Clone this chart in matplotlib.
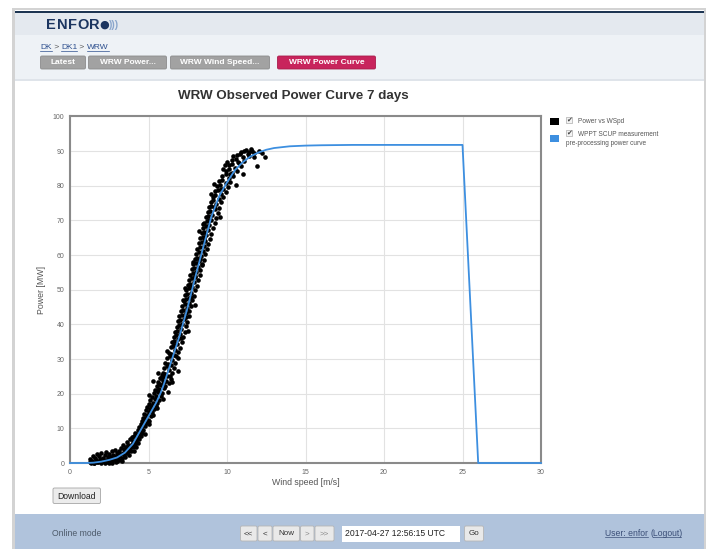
import matplotlib
matplotlib.use("Agg")
import matplotlib.pyplot as plt
from matplotlib.patches import Rectangle, FancyBboxPatch

plt.rcParams['font.family'] = ['Liberation Sans', 'DejaVu Sans']

# ---------------- data ----------------
title = "WRW Observed Power Curve 7 days"
x_label = "Wind speed [m/s]"
y_label = "Power [MW]"
x_ticks = [0, 5, 10, 15, 20, 25, 30]
y_ticks = [0, 10, 20, 30, 40, 50, 60, 70, 80, 90, 100]

legend_labels = ["Power vs WSpd", "WPPT SCUP measurement\npre-processing power curve"]

# pre-processing power curve (blue line)
curve_ws = [0, 1.0, 1.5, 2.0, 2.5, 3.0, 3.5, 4.0, 4.5, 5.0, 5.5, 5.8, 6.0, 6.5, 7.0,
            7.5, 8.0, 8.5, 9.0, 9.5, 10.0, 10.5, 11.0, 11.5, 12.0, 12.5, 13.0, 14.0,
            15.0, 16.0, 18.0, 20.0, 25.0, 26.0, 30.0]
curve_p = [0, 0, 0.1, 0.4, 0.9, 1.6, 3.0, 5.5, 9.5, 13.5, 17.5, 20.5, 23.0, 30.0, 37.0,
           45.0, 54.0, 62.5, 71.0, 77.0, 81.0, 84.5, 86.8, 88.5, 89.6, 90.4, 90.9, 91.4,
           91.6, 91.7, 91.8, 91.8, 91.8, 0, 0]

# observed points (wind speed, power)
obs_low = [
    (1.25, 0.3), (1.3, 1.2), (1.4, 0.6), (1.45, 2.1), (1.5, 0.1), (1.6, 1.5), (1.65, 0.8),
    (1.7, 2.6), (1.8, 0.4), (1.85, 1.9), (1.9, 1.1), (2.0, 0.2), (2.0, 2.8), (2.1, 1.4),
    (2.15, 0.6), (2.2, 2.2), (2.3, 1.0), (2.3, 3.1), (2.4, 0.3), (2.45, 1.8), (2.5, 2.6),
    (2.55, 0.9), (2.6, 1.6), (2.65, 3.4), (2.7, 0.5), (2.75, 2.3), (2.8, 1.2), (2.85, 3.8),
    (2.9, 0.8), (2.95, 2.0), (3.0, 2.9), (3.0, 0.6), (1.35, 0.0), (1.55, 0.0), (1.75, 0.2),
    (1.95, 0.0), (2.25, 0.1), (2.5, 0.0), (2.7, 0.1), (2.9, 0.2),
    (3.05, 1.8), (3.1, 3.6), (3.12, 0.9), (3.2, 2.5), (3.25, 4.3), (3.3, 1.4), (3.35, 3.0),
    (3.4, 5.1), (3.45, 2.2), (3.5, 3.8), (3.52, 1.6), (3.58, 4.6), (3.6, 2.9), (3.65, 6.0),
    (3.7, 3.5), (3.72, 5.2), (3.78, 2.4), (3.8, 4.4), (3.85, 6.8), (3.88, 3.6), (3.92, 5.6),
    (3.95, 7.4), (4.0, 4.6), (4.02, 6.3), (4.05, 3.4), (4.1, 7.9), (4.12, 5.5), (4.15, 8.8),
    (4.2, 6.6), (4.22, 4.7), (4.26, 7.6), (4.3, 9.6), (4.32, 5.9), (4.36, 8.4), (4.4, 10.3),
    (4.42, 6.9), (4.45, 9.1), (4.5, 11.2), (4.5, 7.8), (4.55, 10.0), (4.58, 12.0), (4.6, 8.7),
    (3.15, 2.0), (3.42, 3.9), (3.68, 4.5), (3.9, 4.9), (4.08, 6.0), (4.28, 7.0), (4.48, 8.9),
    (3.3, 0.5),
    (4.62, 10.9), (4.65, 13.0), (4.68, 9.6), (4.7, 11.8), (4.74, 14.2), (4.78, 10.7),
    (4.8, 12.9), (4.84, 15.3), (4.86, 11.4), (4.9, 13.8), (4.92, 16.2), (4.96, 12.4),
    (5.0, 14.6), (5.02, 17.0), (5.05, 12.0), (5.08, 15.5), (5.12, 18.1), (5.15, 13.6),
    (5.18, 16.4), (5.22, 19.0), (5.25, 14.8), (5.3, 17.3), (5.32, 20.2), (5.36, 15.6),
    (5.4, 18.4), (5.42, 21.1), (5.46, 16.5), (5.5, 19.3), (5.52, 22.3), (5.56, 17.4),
    (5.6, 20.4), (5.62, 23.4), (5.66, 18.2), (5.7, 21.5), (5.74, 24.6), (5.78, 19.2),
    (5.8, 22.6), (5.84, 25.4), (5.88, 20.1), (5.9, 23.6), (5.0, 11.2), (5.3, 13.9),
    (5.55, 15.8), (4.75, 8.4), (5.95, 18.6),
]
obs_steep = [
    (5.55, 21.0), (5.97, 21.6), (6.22, 20.6), (5.68, 22.9), (6.04, 22.2), (6.31, 23.1),
    (5.86, 22.6), (5.79, 24.4), (6.12, 23.7), (6.42, 24.3), (5.94, 24.8), (5.9, 25.9),
    (6.21, 25.2), (6.52, 26.0), (6.06, 25.6), (5.96, 27.4), (6.29, 26.8), (6.61, 27.3),
    (6.16, 27.9), (6.04, 28.8), (6.41, 28.2), (6.69, 29.0), (6.26, 28.6), (6.18, 30.4),
    (6.49, 29.7), (6.86, 30.3), (6.36, 30.9), (6.29, 31.8), (6.62, 31.2), (6.91, 32.0),
    (6.46, 31.5), (6.41, 33.4), (6.71, 32.7), (7.02, 33.2), (6.56, 33.8), (6.49, 34.9),
    (6.81, 34.2), (7.11, 34.8), (6.64, 35.3), (6.61, 36.3), (6.89, 35.7), (7.22, 36.4),
    (6.76, 36.8), (6.69, 37.9), (7.01, 37.2), (7.31, 37.7), (6.84, 38.2), (6.81, 39.3),
    (7.09, 38.8), (7.36, 39.4), (6.96, 39.7), (6.86, 40.9), (7.16, 40.2), (7.46, 40.7),
    (7.01, 41.3), (6.96, 42.4), (7.24, 41.7), (7.56, 42.3), (7.11, 42.8), (7.04, 43.9),
    (7.36, 43.2), (7.61, 43.8), (7.21, 44.3), (7.16, 45.4), (7.44, 44.7), (7.71, 45.2),
    (7.31, 45.9), (7.24, 46.8), (7.56, 46.2), (7.79, 46.9), (7.41, 47.3), (7.31, 48.4),
    (7.61, 47.7), (7.91, 48.2), (7.46, 48.9), (7.39, 49.8), (7.71, 49.2), (7.96, 49.9),
    (7.56, 50.4), (7.49, 51.4), (7.79, 50.7), (8.06, 51.2), (7.66, 51.8), (7.56, 52.9),
    (7.91, 52.2), (8.16, 52.7), (7.74, 53.3), (7.64, 54.3), (7.96, 53.6), (8.26, 54.2),
    (7.81, 54.8), (7.76, 55.9), (8.04, 55.2), (8.31, 55.7), (7.91, 56.3), (7.84, 57.4),
    (8.16, 56.7), (8.41, 57.2), (8.01, 57.8), (7.96, 58.9), (8.24, 58.2), (8.51, 58.7),
    (8.11, 59.3), (8.01, 60.4), (8.36, 59.7), (8.61, 60.2), (8.19, 60.8), (8.11, 61.9),
    (8.44, 61.2), (8.71, 61.7), (8.31, 62.3), (8.21, 63.4), (8.56, 62.7), (8.81, 63.2),
    (8.39, 63.8), (8.29, 64.9), (8.61, 64.2), (8.91, 64.7), (8.46, 65.3), (8.41, 66.4),
    (8.69, 65.7), (9.01, 66.2), (8.56, 66.8), (8.49, 67.9), (8.81, 67.2), (9.11, 67.7),
    (8.66, 68.3), (8.56, 69.4), (8.86, 68.7), (9.21, 69.2), (8.71, 69.8), (8.66, 70.9),
    (8.96, 70.2), (9.31, 70.7), (8.81, 71.3), (8.76, 72.4), (9.06, 71.7), (9.41, 72.2),
    (8.91, 72.8), (8.86, 73.9), (9.21, 73.2), (9.51, 73.7), (9.01, 74.3), (8.96, 75.4),
    (9.31, 74.7), (9.61, 75.2), (9.11, 75.8), (9.11, 76.9), (9.46, 76.2), (9.76, 76.7),
    (9.26, 77.3), (9.21, 78.4), (9.61, 77.7), (9.91, 78.2), (9.41, 78.8), (9.36, 79.9),
    (9.76, 79.2), (10.06, 79.7), (9.56, 80.3), (9.51, 81.4), (9.91, 80.7), (10.21, 81.2),
    (9.71, 81.8), (9.71, 82.9), (10.11, 82.2), (10.41, 82.7), (9.91, 83.3), (9.91, 84.4),
    (10.31, 83.7), (10.61, 84.2), (10.11, 84.8), (10.11, 85.9), (10.51, 85.2), (10.86, 85.7),
    (10.31, 86.3), (10.31, 87.4), (10.76, 86.7), (11.11, 87.2), (10.56, 87.8), (10.61, 88.9),
    (11.01, 88.2), (11.41, 88.7), (10.81, 89.2), (10.91, 89.8), (11.31, 89.3), (11.71, 89.6),
    (11.11, 90.1), (11.21, 90.3), (11.61, 89.9), (12.01, 90.0),
    (12.4, 88.2), (11.9, 85.6), (11.05, 83.3), (10.6, 80.1), (9.2, 80.5), (9.55, 71.0),
    (8.4, 57.5), (7.5, 38.0), (6.9, 26.6), (6.5, 23.5), (7.95, 45.6), (10.0, 86.8),
    (10.4, 88.5), (11.5, 90.6), (12.2, 89.4), (7.3, 50.5), (6.15, 32.2), (8.2, 67.0),
    (9.75, 84.9), (5.3, 23.8), (5.0, 19.5), (5.6, 26.0),
    (6.35, 25.0), (6.75, 31.0), (7.05, 36.0), (7.4, 42.0), (7.7, 48.0), (7.95, 54.0),
    (8.3, 59.0), (8.55, 65.0), (8.85, 70.0), (9.15, 74.0), (9.6, 79.0), (10.2, 83.5),
    (10.7, 87.0), (11.4, 89.8), (6.0, 23.5), (6.6, 34.0), (7.2, 47.0), (7.85, 58.0),
    (8.45, 69.0), (9.0, 77.5), (9.85, 86.0), (11.75, 88.4),
]

# page texts
breadcrumb = [("DK", True), (" > ", False), ("DK1", True), (" > ", False), ("WRW", True)]
tab_labels = ["Latest", "WRW Power...", "WRW Wind Speed...", "WRW Power Curve"]
nav_labels = ["<<", "<", "Now", ">", ">>"]
date_text = "2017-04-27 12:56:15 UTC"

# ---------------- layout ----------------
W, H = 711, 549
fig = plt.figure(figsize=(W / 100, H / 100), dpi=100)
fig.patch.set_facecolor('white')
bg = fig.add_axes([0, 0, 1, 1])
bg.set_xlim(0, W)
bg.set_ylim(H, 0)
bg.axis('off')


def rect(x0, y0, x1, y1, fc, ec='none', lw=0, z=1):
    bg.add_patch(Rectangle((x0, y0), x1 - x0, y1 - y0, facecolor=fc,
                           edgecolor=ec, linewidth=lw, zorder=z))


def button(x0, y0, x1, y1, fc, ec, label, tc, fs, bold=False, z=3):
    bg.add_patch(FancyBboxPatch((x0, y0), x1 - x0, y1 - y0,
                                boxstyle="round,pad=0,rounding_size=1.5",
                                facecolor=fc, edgecolor=ec, linewidth=0.6, zorder=z))
    bg.text((x0 + x1) / 2, (y0 + y1) / 2 + 0.3, label, ha='center', va='center',
            fontsize=fs, color=tc, fontweight='bold' if bold else 'normal', zorder=z + 1)


# panel frame
rect(12, 8, 706, 549, '#d3d3d3')
rect(14.5, 10, 703.5, 549, 'white')
rect(14.5, 10.5, 703.5, 13, '#1d3552', z=2)
rect(14.5, 13, 703.5, 35, '#e4e9ef', z=2)
rect(14.5, 35, 703.5, 79, '#eef2f6', z=2)
rect(14.5, 79, 703.5, 80.5, '#dfe4ea', z=2)
rect(14.5, 514, 703.5, 549, '#b0c3dc', z=2)
rect(146.5, 16, 147.3, 33, '#c9d1da', z=3)

# logo
logo_letters = [("E", 50.5), ("N", 62), ("F", 72.5), ("O", 83), ("R", 94.5)]
for ch, cx in logo_letters:
    bg.text(cx, 25.3, ch, ha='center', va='center', fontsize=10.5, fontweight='bold',
            color='#1b3560', zorder=4)
bg.text(104.5, 25.0, "\u25cf", ha='center', va='center', fontsize=8,
        color='#1b3560', family='DejaVu Sans', zorder=4)
bg.text(108.5, 25.0, ")))", ha='left', va='center', fontsize=7.5, fontweight='bold',
        color='#8aa6cc', zorder=4)

# breadcrumb
fig.canvas.draw()
renderer = fig.canvas.get_renderer()
cx = 40.0
for txt, link in breadcrumb:
    t = bg.text(cx, 47.5, txt, ha='left', va='center', fontsize=6.0,
                color='#2d4f8e' if link else '#555555', zorder=4)
    bb = t.get_window_extent(renderer)
    wpx = bb.width
    if link:
        bg.plot([cx, cx + wpx], [51.0, 51.0], color='#2d4f8e', lw=0.5, zorder=4)
    cx += wpx

# tabs
tab_x = [(40.5, 85.5), (88.5, 166.5), (170.5, 269.5), (277.5, 375.5)]
for (x0, x1), lab in zip(tab_x, tab_labels):
    fc = '#c8245c' if lab == "WRW Power Curve" else '#a2a2a2'
    ec = '#a81c4b' if lab == "WRW Power Curve" else '#8c8c8c'
    button(x0, 56, x1, 69, fc, ec, lab, 'white', 6.0, bold=True)

# download button
button(53, 488, 100.5, 503.5, '#ececec', '#a5a5a5', "Download", '#222222', 6.2)

# footer
bg.text(52, 533.5, "Online mode", ha='left', va='center', fontsize=6.2,
        color='#4d5a6a', zorder=4)
nav_x = [(240.5, 257), (258, 272), (273, 299.5), (300.5, 314), (315, 334)]
for (x0, x1), lab in zip(nav_x, nav_labels):
    tc = '#333333' if lab in ("<<", "<", "Now") else '#8a8a8a'
    button(x0, 526, x1, 541, '#e9e9e9', '#b5b5b5', lab, tc, 5.8)
rect(341.5, 525.5, 459.5, 541.5, 'white', z=3)
bg.text(345, 533.7, date_text, ha='left', va='center', fontsize=6.2,
        color='#222222', zorder=4)
button(464.5, 526, 483.5, 541, '#e9e9e9', '#b5b5b5', "Go", '#333333', 5.8)
t_user = bg.text(605, 533.5, "User: enfor", ha='left', va='center', fontsize=6.2,
                 color='#3b4f78', zorder=4)
bbu = t_user.get_window_extent(renderer)
bg.plot([605, 605 + bbu.width], [537.2, 537.2], color='#3b4f78', lw=0.5, zorder=4)
xl = 605 + bbu.width + 2.5
t_lo = bg.text(xl, 533.5, "(Logout)", ha='left', va='center', fontsize=6.2,
               color='#3b4f78', zorder=4)
bbl = t_lo.get_window_extent(renderer)
bg.plot([xl + 2, xl + bbl.width - 2], [537.2, 537.2], color='#3b4f78', lw=0.5, zorder=4)

# title
bg.text(293, 96.5, title, ha='center', va='center', fontsize=9.6, fontweight='bold',
        color='#333333', zorder=4)

# ---------------- chart ----------------
left, right, top, bottom = 70, 541, 116.5, 463
ax = fig.add_axes([left / W, (H - bottom) / H, (right - left) / W, (bottom - top) / H])
ax.set_facecolor('white')
ax.set_xlim(0, 30)
ax.set_ylim(0, 100)
ax.set_xticks(x_ticks)
ax.set_yticks(y_ticks)
ax.grid(True, color='#e2e2e2', lw=0.8, zorder=0)
ax.set_axisbelow(True)
for s in ax.spines.values():
    s.set_color('#8a8a8a')
    s.set_linewidth(1.5)
    s.set_zorder(1)
ax.tick_params(length=0, labelsize=5, labelcolor='#666666', pad=4)

obs = obs_low + obs_steep
ax.scatter([p[0] for p in obs], [p[1] for p in obs], s=11, color='black',
           linewidths=0, zorder=3, clip_on=False)
ax.plot(curve_ws, curve_p, color='#3d8fe0', lw=1.3, zorder=4, clip_on=False)

ax.set_xlabel(x_label, fontsize=6.3, color='#555555', labelpad=2)
ax.set_ylabel(y_label, fontsize=6.3, color='#555555', labelpad=5)

# ---------------- legend ----------------
legend_colors = ['black', '#3d8fe0']
legend_y = [121.5, 138.5]
for col, ly in zip(legend_colors, legend_y):
    rect(550, ly - 4, 559, ly + 3.5, col, z=4)
for cy in (120.5, 133.5):
    rect(565.5, cy - 3.2, 571.5, cy + 2.8, '#f4f4f4', ec='#9a9a9a', lw=0.4, z=4)
    bg.text(568.8, cy - 0.6, "\u2714", ha='center', va='center', fontsize=5,
            color='#444444', family='DejaVu Sans', zorder=5)
bg.text(578, 121.5, legend_labels[0], ha='left', va='center', fontsize=4.7,
        color='#555555', zorder=5)
l1, l2 = legend_labels[1].split("\n")
bg.text(578, 134.5, l1, ha='left', va='center', fontsize=4.7, color='#555555', zorder=5)
bg.text(566, 143.5, l2, ha='left', va='center', fontsize=4.7, color='#555555', zorder=5)

fig.savefig("out.png", dpi=100, facecolor='white')
